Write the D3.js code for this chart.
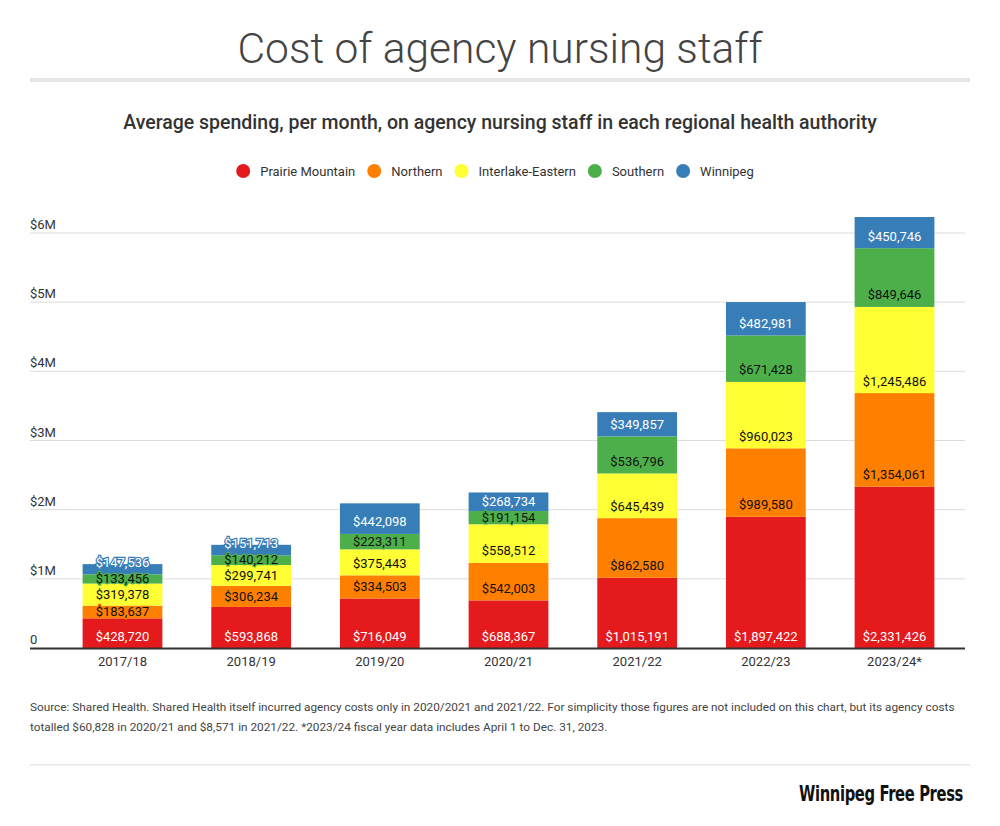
<!DOCTYPE html>
<html lang="en">
<head>
<meta charset="utf-8">
<title>Cost of agency nursing staff</title>
<script src="https://cdn.jsdelivr.net/npm/d3@7"></script>
<style>
  body { margin: 0; background: #fff; font-family: Roboto, "Noto Sans", sans-serif; }
  svg text { font-family: Roboto, "Noto Sans", sans-serif; }
</style>
</head>
<body>
<div id="chart"></div>
<script>
// data (average monthly spending, $)
var years = ["2017/18", "2018/19", "2019/20", "2020/21", "2021/22", "2022/23", "2023/24*"];
var prairie   = [428720, 593868, 716049, 688367, 1015191, 1897422, 2331426];
var northern  = [183637, 306234, 334503, 542003, 862580, 989580, 1354061];
var interlake = [319378, 299741, 375443, 558512, 645439, 960023, 1245486];
var southern  = [133456, 140212, 223311, 191154, 536796, 671428, 849646];
var winnipeg  = [147536, 151713, 442098, 268734, 349857, 482981, 450746];
var seriesNames = ["Prairie Mountain", "Northern", "Interlake-Eastern", "Southern", "Winnipeg"];
var yTicks = [0, 1e6, 2e6, 3e6, 4e6, 5e6, 6e6];
var yTickLabels = ["0", "$1M", "$2M", "$3M", "$4M", "$5M", "$6M"];

var colors = ["#e41a1c", "#ff7f00", "#ffff33", "#4daf4a", "#377eb8"];
var labelColors = ["#fff", "#111", "#111", "#111", "#fff"];

var width = 1000, height = 826;
var svg = d3.select("#chart").append("svg")
    .attr("width", width)
    .attr("height", height);

// title + rule
svg.append("text")
    .attr("x", 500).attr("y", 63)
    .attr("text-anchor", "middle")
    .attr("font-size", 42.5)
    .attr("font-weight", 300)
    .attr("fill", "#444")
    .text("Cost of agency nursing staff");
svg.append("rect")
    .attr("x", 30).attr("y", 78).attr("width", 940).attr("height", 4)
    .attr("fill", "#e6e6e6");

svg.append("text")
    .attr("x", 500).attr("y", 129)
    .attr("text-anchor", "middle")
    .attr("font-size", 19.5)
    .attr("font-weight", 500)
    .attr("fill", "#333")
    .text("Average spending, per month, on agency nursing staff in each regional health authority");

// legend
var legend = svg.append("g");
var lx = 0;
var items = legend.selectAll("g").data(seriesNames).join("g");
items.append("circle").attr("r", 7).attr("cy", 0).attr("fill", function(d, i) { return colors[i]; });
items.append("text")
    .attr("x", 17).attr("y", 4.5)
    .attr("font-size", 13)
    .attr("fill", "#333")
    .text(function(d) { return d; });
items.each(function() {
    var g = d3.select(this);
    var w = g.select("text").node().getComputedTextLength();
    g.attr("transform", "translate(" + lx + ",0)");
    lx += 17 + w + 19;
});
var legendW = lx - 19 + 7;
legend.attr("transform", "translate(" + (495 - legendW / 2 + 7) + ",171)");

// scales
var x = d3.scaleBand().domain(years).range([44, 973]).paddingInner(0.38).paddingOuter(0.3);
var y = d3.scaleLinear().domain([0, 6e6]).range([648, 233]);

// grid
var grid = svg.append("g");
grid.selectAll("line").data(yTicks.slice(1)).join("line")
    .attr("x1", 30).attr("x2", 965)
    .attr("y1", function(d) { return y(d); })
    .attr("y2", function(d) { return y(d); })
    .attr("stroke", "#dcdcdc")
    .attr("stroke-width", 1);
grid.selectAll("text").data(yTicks).join("text")
    .attr("x", 30)
    .attr("y", function(d) { return y(d) - 4; })
    .attr("font-size", 13)
    .attr("fill", "#333")
    .text(function(d, i) { return yTickLabels[i]; });

// stack
var table = years.map(function(yr, i) {
    return { year: yr, s0: prairie[i], s1: northern[i], s2: interlake[i], s3: southern[i], s4: winnipeg[i] };
});
var stack = d3.stack().keys(["s0", "s1", "s2", "s3", "s4"])(table);

var bars = svg.append("g");
stack.forEach(function(layer, k) {
    bars.append("g").selectAll("rect").data(layer).join("rect")
        .attr("x", function(d) { return x(d.data.year); })
        .attr("width", x.bandwidth())
        .attr("y", function(d) { return y(d[1]); })
        .attr("height", function(d) { return y(d[0]) - y(d[1]); })
        .attr("fill", colors[k]);
});

// labels: near segment bottom, nudged up to avoid overlap
var fmt = d3.format("$,");
var labels = svg.append("g");
years.forEach(function(yr, i) {
    var prev = Infinity;
    stack.forEach(function(layer, k) {
        var d = layer[i];
        var bottom = y(d[0]), top = y(d[1]);
        var ly = Math.max((bottom + top) / 2, bottom - 12);
        ly = Math.min(ly, prev - 16);
        prev = ly;
        labels.append("text")
            .attr("x", x(yr) + x.bandwidth() / 2)
            .attr("y", ly + 4.5)
            .attr("text-anchor", "middle")
            .attr("font-size", 13)
            .attr("fill", labelColors[k])
            .attr("stroke", colors[k])
            .attr("stroke-width", 2.5)
            .attr("paint-order", "stroke")
            .text(fmt(d.data["s" + k]));
    });
});

// x axis
svg.append("line")
    .attr("x1", 30).attr("x2", 965).attr("y1", 648.5).attr("y2", 648.5)
    .attr("stroke", "#333").attr("stroke-width", 2);
svg.append("g").selectAll("text").data(years).join("text")
    .attr("x", function(d) { return x(d) + x.bandwidth() / 2; })
    .attr("y", 666)
    .attr("text-anchor", "middle")
    .attr("font-size", 13)
    .attr("fill", "#333")
    .text(function(d) { return d; });

// notes
var notes = [
  "Source: Shared Health. Shared Health itself incurred agency costs only in 2020/2021 and 2021/22. For simplicity those figures are not included on this chart, but its agency costs",
  "totalled $60,828 in 2020/21 and $8,571 in 2021/22. *2023/24 fiscal year data includes April 1 to Dec. 31, 2023."
];
svg.append("g").selectAll("text").data(notes).join("text")
    .attr("x", 30)
    .attr("y", function(d, i) { return 711 + i * 20; })
    .attr("font-size", 11.8)
    .attr("fill", "#444")
    .text(function(d) { return d; });

svg.append("rect")
    .attr("x", 30).attr("y", 764).attr("width", 940).attr("height", 1.5)
    .attr("fill", "#e6e6e6");

// logo, squeezed horizontally to the width it has in the picture
var logo = svg.append("text")
    .attr("text-anchor", "end")
    .style("font-family", "'DejaVu Sans Condensed', 'Liberation Sans Narrow', sans-serif")
    .attr("font-size", 22)
    .attr("font-weight", 700)
    .attr("letter-spacing", -0.5)
    .attr("fill", "#111")
    .text("Winnipeg Free Press");
var lw = logo.node().getComputedTextLength();
logo.attr("transform", "translate(963,801) scale(" + (164 / lw) + ",1)");
</script>
</body>
</html>
